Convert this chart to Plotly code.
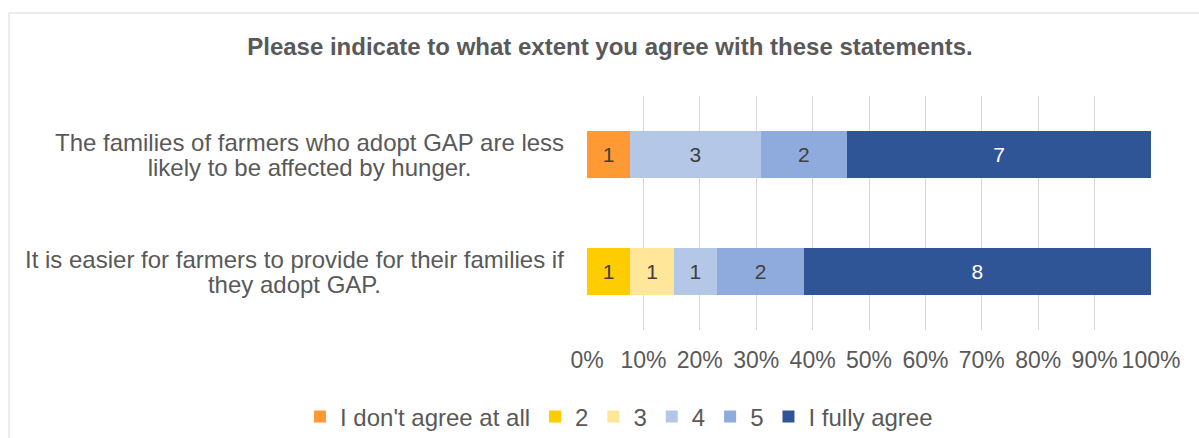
import plotly.graph_objects as go

# Survey statements (top to bottom) and response counts per answer option
statements = [
    "The families of farmers who adopt GAP are less<br>likely to be affected by hunger.",
    "It is easier for farmers to provide for their families if<br>they adopt GAP.",
]
answer_options = ["I don't agree at all", "2", "3", "4", "5", "I fully agree"]
counts_hunger = [1, 0, 0, 3, 2, 7]
counts_provide = [0, 1, 1, 1, 2, 8]
tick_values = [0, 10, 20, 30, 40, 50, 60, 70, 80, 90, 100]

colors = ["#FF9933", "#FFCC00", "#FFE699", "#B4C7E7", "#8FAADC", "#2F5597"]
label_colors = ["#404040", "#404040", "#404040", "#404040", "#404040", "#FFFFFF"]

FONT = "Liberation Sans, Arial, sans-serif"
GREY = "#595959"

rows = [counts_hunger, counts_provide]
totals = [sum(r) for r in rows]

fig = go.Figure()
for i, option in enumerate(answer_options):
    vals = [r[i] for r in rows]
    pct = [v / t * 100 for v, t in zip(vals, totals)]
    fig.add_trace(go.Bar(
        y=statements,
        x=pct,
        orientation="h",
        name=option,
        marker=dict(color=colors[i], line=dict(width=0)),
        text=[str(v) if v else "" for v in vals],
        textposition="inside",
        insidetextanchor="middle",
        textangle=0,
        textfont=dict(family=FONT, size=21, color=label_colors[i]),
        width=0.41,
        hoverinfo="skip",
    ))

# Statement labels: lines centred on each other, compact line spacing
span = "<span style='font-size:24px'>"
for s in statements:
    fig.add_annotation(
        x=0, xref="paper", y=s, yref="y",
        xanchor="right", yanchor="middle", xshift=-21,
        text=span + s.replace("<br>", "</span><br>" + span) + "</span>",
        showarrow=False, align="center",
        font=dict(family=FONT, size=19, color=GREY),
    )

# Light frame around the chart area
fig.add_shape(
    type="rect", xref="paper", yref="paper",
    x0=-1.0248, x1=1.3, y0=-0.7, y1=1.3547,
    line=dict(color="#D9D9D9", width=1), fillcolor="rgba(0,0,0,0)",
    layer="below",
)

fig.update_layout(
    barmode="stack",
    width=1199, height=438,
    margin=dict(l=587, r=48, t=96, b=108, autoexpand=False),
    paper_bgcolor="white",
    plot_bgcolor="white",
    title=dict(
        text="<b>Please indicate to what extent you agree with these statements.</b>",
        x=610 / 1199, xanchor="center", xref="container",
        y=1 - 47 / 438, yanchor="middle", yref="container",
        font=dict(family=FONT, size=24, color=GREY),
    ),
    xaxis=dict(
        range=[0, 100],
        tickvals=tick_values,
        ticktext=[f"{v}%" for v in tick_values],
        showgrid=True, gridcolor="#D9D9D9", gridwidth=1,
        zeroline=False, showline=False,
        ticks="", ticklabelstandoff=14,
        tickfont=dict(family=FONT, size=23, color=GREY),
        automargin=False,
        fixedrange=True,
    ),
    yaxis=dict(
        autorange="reversed",
        showticklabels=False,
        showgrid=False, zeroline=False, showline=False,
        automargin=False,
        fixedrange=True,
    ),
    legend=dict(
        orientation="h",
        x=(300 - 587) / 564, xref="paper", xanchor="left",
        y=(330 - 417) / 234, yref="paper", yanchor="middle",
        font=dict(family=FONT, size=24, color=GREY),
        traceorder="normal",
        itemwidth=30,
    ),
    bargap=0.59,
)

fig.write_html("out.html")
